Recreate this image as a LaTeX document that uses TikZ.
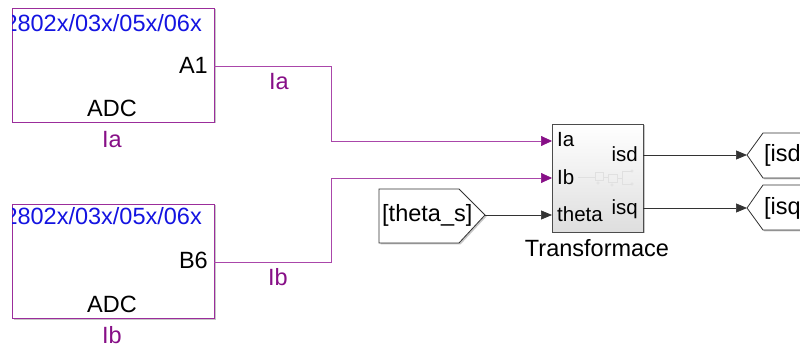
\documentclass[tikz,border=0pt]{standalone}
\usepackage{fontspec}
\setmainfont{Liberation Sans}
\usetikzlibrary{arrows.meta}
\definecolor{adcborder}{RGB}{155,45,155}
\definecolor{sigline}{RGB}{170,70,170}
\definecolor{siglabel}{RGB}{135,15,135}
\definecolor{adcblue}{RGB}{20,20,225}
\begin{document}
\begin{tikzpicture}[x=1pt,y=-1pt,
  lbl/.style={inner sep=0,font=\fontsize{23.5}{28}\selectfont},
  portlbl/.style={inner sep=0,font=\fontsize{20.5}{24}\selectfont},
  adcbox/.style={draw=adcborder,line width=0.9pt,fill=white,inner sep=0,anchor=north west,minimum width=202pt,minimum height=114pt},
  shadowfill/.style={fill=black!22,draw=none},
  sigp/.style={draw=sigline,line width=0.7pt,-{Triangle[length=11pt,width=10pt,color=siglabel]}},
  sigk/.style={draw=black!80,line width=0.7pt,-{Triangle[length=11pt,width=9pt]}},
  gotobox/.style={draw=black!80,line width=0.8pt,fill=white},
  icon/.style={draw=black!12,line width=0.5pt}
]
\useasboundingbox (0,0) rectangle (800,347);
\clip (0,0) rectangle (800,347);
\fill[white] (0,0) rectangle (800,347);

% ---------- ADC 1 ----------
\fill[shadowfill] (13.5,9.5) rectangle (215.5,123.5);
\node[adcbox] (adc1) at (12,8) {};
\begin{scope}
  \clip (12.5,8.5) rectangle (213.5,121.5);
  \node[lbl,text=adcblue,anchor=base east] (adc1t) at (202,31.5) {2802x/03x/05x/06x};
\end{scope}
\node[lbl,anchor=base east] (a1t) at (208,74) {A1};
\node[lbl,anchor=base] (adc1n) at (112,117) {ADC};
\node[lbl,text=siglabel,anchor=base] (adc1l) at (112,148) {Ia};

% ---------- ADC 2 ----------
\fill[shadowfill] (13.5,205.5) rectangle (215.5,319.5);
\node[adcbox] (adc2) at (12,204) {};
\begin{scope}
  \clip (12.5,204.5) rectangle (213.5,317.5);
  \node[lbl,text=adcblue,anchor=base east] (adc2t) at (202,225) {2802x/03x/05x/06x};
\end{scope}
\node[lbl,anchor=base east] (b6t) at (208,269) {B6};
\node[lbl,anchor=base] (adc2n) at (112,312) {ADC};
\node[lbl,text=siglabel,anchor=base] (adc2l) at (112,343) {Ib};

% ---------- Transformace ----------
\fill[shadowfill] (553.5,125.5) rectangle (644.5,233.5);
\node[draw=black!70,line width=0.8pt,top color=white,bottom color=black!13,
      minimum width=91pt,minimum height=108pt,anchor=north west,inner sep=0] (tr) at (552,124) {};
% faint icon
\draw[icon] (578,177) -- (595,177);
\draw[icon] (595,172) rectangle (603,180);
\draw[icon] (603,177) -- (608,177);
\draw[icon] (608,174) rectangle (617,182);
\draw[icon] (617,178) -- (622,178) (622,171) -- (622,184) (622,171) -- (632,171) (622,184) -- (632,184);
\draw[icon] (598,183) circle (1.2) (612,185) circle (1.2) (632,171) circle (1.2) (632,184) circle (1.2);
\node[portlbl,anchor=base west] (pIa) at (557,147) {Ia};
\node[portlbl,anchor=base west] (pIb) at (557,185) {Ib};
\node[portlbl,anchor=base west] (pth) at (557,222) {theta};
\node[portlbl,anchor=base east] (pisd) at (638,162) {isd};
\node[portlbl,anchor=base east] (pisq) at (638,215) {isq};
\node[lbl,anchor=base] (trl) at (597,257) {Transformace};

% ---------- theta_s From block ----------
\fill[shadowfill] (380.5,190.5) -- (460.5,190.5) -- (486.5,216.5) -- (460.5,244.5) -- (380.5,244.5) -- cycle;
\draw[gotobox] (379,189) -- (459,189) -- (485,215) -- (459,243) -- (379,243) -- cycle;
\node[lbl,anchor=base west] (ths) at (382,222) {[theta\_s]};

% ---------- Goto blocks ----------
\fill[shadowfill] (748.5,156.5) -- (764.5,134.5) -- (812,134.5) -- (812,179.5) -- (764.5,179.5) -- cycle;
\draw[gotobox] (747,155) -- (763,133) -- (810,133) -- (810,178) -- (763,178) -- cycle;
\node[lbl,anchor=base west] (gisd) at (764,162) {[isd]};
\fill[shadowfill] (748.5,209.5) -- (764.5,186.5) -- (812,186.5) -- (812,231.5) -- (764.5,231.5) -- cycle;
\draw[gotobox] (747,208) -- (763,185) -- (810,185) -- (810,230) -- (763,230) -- cycle;
\node[lbl,anchor=base west] (gisq) at (764,215) {[isq]};

% ---------- ports ----------
\coordinate (a1out) at (214,66);
\coordinate (b6out) at (214,262);
\coordinate (inIa) at (552,141);
\coordinate (inIb) at (552,178);
\coordinate (inth) at (552,215);
\coordinate (thsout) at (485,215);
\coordinate (isdout) at (643,155);
\coordinate (isqout) at (643,208);
\coordinate (isdin) at (747,155);
\coordinate (isqin) at (747,208);

% ---------- connectors ----------
\draw[sigp] (a1out) -- ++(117,0) |- (inIa);
\draw[sigp] (b6out) -- ++(117,0) |- (inIb);
\node[lbl,text=siglabel,anchor=base] (lIa) at (279,90) {Ia};
\node[lbl,text=siglabel,anchor=base] (lIb) at (278,285) {Ib};
\draw[sigk] (thsout) -- (inth);
\draw[sigk] (isdout) -- (isdin);
\draw[sigk] (isqout) -- (isqin);
\end{tikzpicture}
\end{document}
